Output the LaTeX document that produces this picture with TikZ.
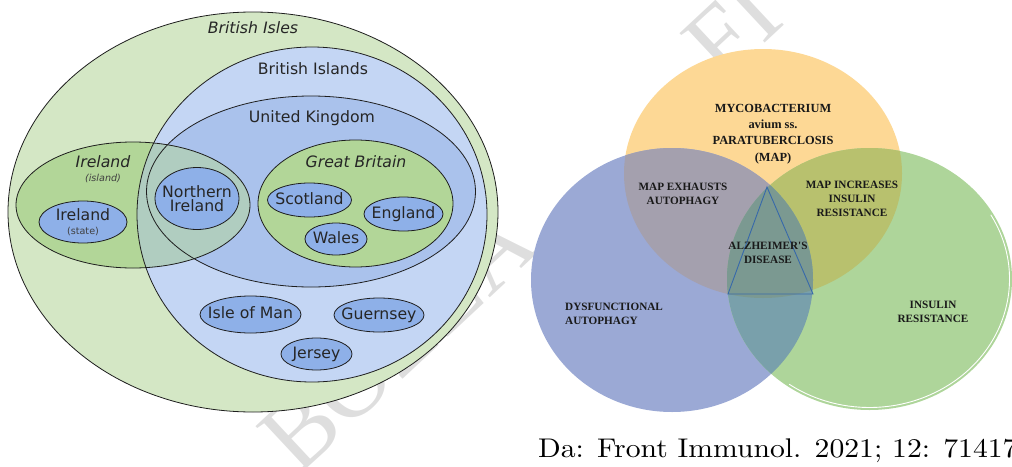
\documentclass[tikz,border=0pt]{standalone}
\usepackage{fontspec}
\newfontfamily\dejavu{DejaVu Sans}
\newfontfamily\venn{Liberation Serif}
\newfontfamily\capfont[Extension=.otf,FakeStretch=1.1]{lmroman10-regular}
\usetikzlibrary{shapes.geometric}
\definecolor{islesgreen}{RGB}{212,231,197}
\definecolor{islandsblue}{RGB}{196,214,244}
\definecolor{ukblue}{RGB}{170,194,236}
\definecolor{landgreen}{RGB}{178,214,152}
\definecolor{mixgreen}{RGB}{176,205,192}
\definecolor{placeblue}{RGB}{142,176,232}
\definecolor{edgegray}{RGB}{30,30,30}
\definecolor{mapfill}{RGB}{253,216,149}
\definecolor{autofill}{RGB}{155,169,213}
\definecolor{insfill}{RGB}{174,213,154}
\definecolor{mapauto}{RGB}{164,160,174}
\definecolor{mapins}{RGB}{184,193,110}
\definecolor{autoins}{RGB}{121,160,171}
\definecolor{alzfill}{RGB}{123,153,145}
\definecolor{triblue}{RGB}{55,105,170}
\definecolor{wmgray}{RGB}{222,222,222}

\begin{document}
\begin{tikzpicture}[x=1pt,y=-1pt,
  lbl/.style={font=\dejavu\fontsize{15.7}{17}\selectfont,text=black!85,
    inner sep=0pt,text height=11.5pt,text depth=3.5pt},
  ilbl/.style={lbl,font=\dejavu\itshape\fontsize{15.7}{17}\selectfont},
  tiny/.style={font=\dejavu\fontsize{9.6}{10}\selectfont,text=black!75,inner sep=0pt},
  itiny/.style={tiny,font=\dejavu\itshape\fontsize{9.6}{10}\selectfont},
  place/.style={ellipse,draw=edgegray,fill=placeblue,line width=0.8pt,inner sep=0pt},
  ring/.style={draw=edgegray,line width=0.8pt},
  vtxt/.style={font=\venn\bfseries\fontsize{11.2}{14}\selectfont,align=center,
    text=black!90,inner sep=0pt},
  wmark/.style={font=\venn\fontsize{100}{100}\selectfont,text=wmgray,inner sep=0pt}]

  \useasboundingbox (0,0) rectangle (1012,466);

  % --- watermark, behind both diagrams ---
  \node[wmark,rotate=43,anchor=base west] (wmbozza) at (298,477) {BOZZA};
  \node[wmark,rotate=43,anchor=base west] (wmfi) at (722,84) {FI};

  % --- Euler diagram: centres ---
  \coordinate (islesc) at (253,212);
  \coordinate (islandsc) at (312,214.5);
  \coordinate (ukc) at (311,191.5);
  \coordinate (irlc) at (133,205);
  \coordinate (gbc) at (355.5,203.5);

  % fills
  \fill[islesgreen] (islesc) ellipse [x radius=245,y radius=200];
  \fill[islandsblue] (islandsc) ellipse [x radius=175,y radius=167.5];
  \fill[ukblue] (ukc) ellipse [x radius=164.5,y radius=95.5];
  \fill[landgreen] (irlc) ellipse [x radius=117,y radius=63];
  \begin{scope}
    \clip (irlc) ellipse [x radius=117,y radius=63];
    \fill[mixgreen] (islandsc) ellipse [x radius=175,y radius=167.5];
  \end{scope}
  \fill[landgreen] (gbc) ellipse [x radius=97.5,y radius=63.5];

  % outlines
  \draw[ring] (islesc) ellipse [x radius=245,y radius=200];
  \draw[ring] (islandsc) ellipse [x radius=175,y radius=167.5];
  \draw[ring] (ukc) ellipse [x radius=164.5,y radius=95.5];
  \draw[ring] (irlc) ellipse [x radius=117,y radius=63];
  \draw[ring] (gbc) ellipse [x radius=97.5,y radius=63.5];

  % small places
  \node[place,minimum width=88,minimum height=42] (irlstate) at (83,222) {};
  \node[place,minimum width=84,minimum height=62] (nirl) at (197,198.5) {};
  \node[place,minimum width=84,minimum height=34] (scot) at (309.5,200) {};
  \node[place,minimum width=79,minimum height=34] (eng) at (403.5,214) {};
  \node[place,minimum width=62,minimum height=32] (wales) at (336,239) {};
  \node[place,minimum width=101,minimum height=37] (iom) at (250.5,314.5) {};
  \node[place,minimum width=90,minimum height=34] (guern) at (379,315) {};
  \node[place,minimum width=71,minimum height=32] (jersey) at (316.5,354) {};

  % labels
  \node[ilbl] (islestxt) at (253,29) {British Isles};
  \node[lbl] (islandstxt) at (313,70) {British Islands};
  \node[lbl] (uktxt) at (312,118) {United Kingdom};
  \node[ilbl] (irltxt) at (103,163) {Ireland};
  \node[itiny] (islandtxt) at (103,178) {(island)};
  \node[lbl] (irlstatetxt) at (83,216) {Ireland};
  \node[tiny] (statetxt) at (83,231) {(state)};
  \node[ilbl] (gbtxt) at (356,163) {Great Britain};
  \node[font=\dejavu\fontsize{15.7}{14.5}\selectfont,text=black!85,
    align=center,inner sep=0pt] (nirltxt) at (nirl) {Northern\\Ireland};
  \node[lbl] (scottxt) at (scot) {Scotland};
  \node[lbl] (engtxt) at (eng) {England};
  \node[lbl] (walestxt) at (wales) {Wales};
  \node[lbl] (iomtxt) at (iom) {Isle of Man};
  \node[lbl] (guerntxt) at (guern) {Guernsey};
  \node[lbl] (jerseytxt) at (jersey) {Jersey};

  % --- Venn diagram ---
  \def\mapRx{139}  \def\mapRy{124.5}
  \def\autoRx{141} \def\autoRy{132}
  \def\insRx{142.5}\def\insRy{131}
  \coordinate (mapc) at (763,173.5);
  \coordinate (autoc) at (672,280);
  \coordinate (insc) at (869.5,279);

  \fill[mapfill] (mapc) ellipse [x radius=\mapRx,y radius=\mapRy];
  \fill[autofill] (autoc) ellipse [x radius=\autoRx,y radius=\autoRy];
  \fill[insfill] (insc) ellipse [x radius=\insRx,y radius=\insRy];

  % lenses
  \begin{scope}
    \clip (mapc) ellipse [x radius=\mapRx,y radius=\mapRy];
    \fill[mapauto] (autoc) ellipse [x radius=\autoRx,y radius=\autoRy];
    \fill[mapins] (insc) ellipse [x radius=\insRx,y radius=\insRy];
  \end{scope}
  \begin{scope}
    \clip (autoc) ellipse [x radius=\autoRx,y radius=\autoRy];
    \fill[autoins] (insc) ellipse [x radius=\insRx,y radius=\insRy];
    \clip (mapc) ellipse [x radius=\mapRx,y radius=\mapRy];
    \fill[alzfill] (insc) ellipse [x radius=\insRx,y radius=\insRy];
  \end{scope}

  % thin white inner rim on the green set
  \draw[white,line width=0.9pt]
    ([shift={(-30:140 and 128.5)}]insc)
    arc[start angle=-30,end angle=125,x radius=140,y radius=128.5];

  % triangle in the middle
  \coordinate (tritop) at (767,187);
  \coordinate (trileft) at (728,294);
  \coordinate (triright) at (813,294);
  \draw[triblue,line width=0.9pt] (tritop) -- (trileft) -- (triright) -- cycle;

  % texts
  \node[vtxt,font=\venn\bfseries\fontsize{12.4}{16.3}\selectfont] (maptxt)
    at (773,134) {MYCOBACTERIUM\\avium ss.\\PARATUBERCLOSIS\\(MAP)};
  \node[vtxt] (exhtxt) at (683,194) {MAP EXHAUSTS\\AUTOPHAGY};
  \node[vtxt] (inctxt) at (852,199) {MAP INCREASES\\INSULIN\\RESISTANCE};
  \node[vtxt] (alztxt) at (768,253) {ALZHEIMER'S\\DISEASE};
  \node[vtxt,align=left,anchor=west] (dystxt) at (565,314) {DYSFUNCTIONAL\\AUTOPHAGY};
  \node[vtxt] (instxt) at (933,312) {INSULIN\\RESISTANCE};

  % source line
  \node[anchor=base west,font=\capfont\fontsize{27}{27}\selectfont,inner sep=0pt]
    (srctxt) at (538,457) {Da: Front Immunol. 2021; 12: 714179};

\end{tikzpicture}
\end{document}
